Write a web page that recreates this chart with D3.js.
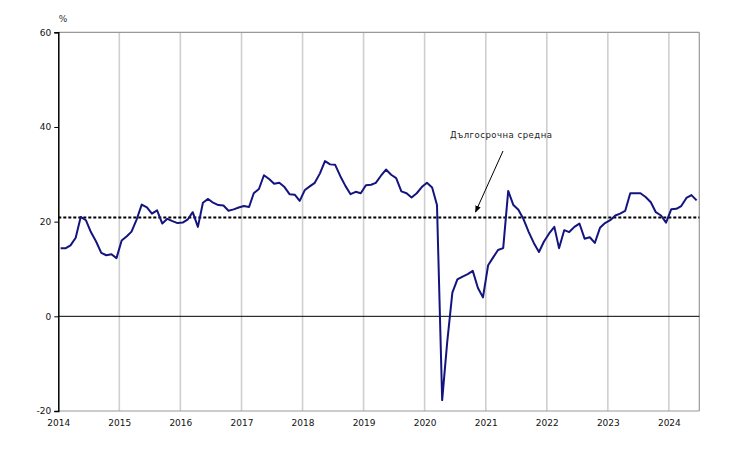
<!DOCTYPE html>
<html><head><meta charset="utf-8">
<script src="https://cdn.jsdelivr.net/npm/d3@7"></script>
<style>body{margin:0;background:#fff}svg{display:block}text{font-family:"DejaVu Sans",Verdana,sans-serif}</style>
</head><body><svg id="c" width="737" height="465"></svg>
<script>
const startMonth = "2014-01";
const values = [
 14.4,14.4,15.0,16.6,21.0,20.3,17.8,15.8,13.4,12.9,13.1,12.3,
 16.0,16.9,17.9,20.5,23.6,23.0,21.7,22.4,19.6,20.6,20.1,19.7,
 19.8,20.5,22.0,18.9,24.0,24.8,24.0,23.5,23.4,22.3,22.6,23.0,
 23.3,23.1,26.0,26.9,29.8,29.0,28.0,28.2,27.3,25.8,25.7,24.4,
 26.7,27.5,28.2,30.2,32.8,32.1,32.0,29.6,27.5,25.8,26.3,26.0,
 27.7,27.8,28.2,29.7,31.0,29.9,29.2,26.4,26.0,25.1,26.0,27.3,
 28.2,27.2,23.5,-17.7,-5.5,5.0,7.8,8.4,8.9,9.6,6.0,4.0,
 10.8,12.5,14.0,14.4,26.5,23.5,22.5,20.5,17.8,15.5,13.6,15.8,
 17.5,18.9,14.4,18.2,17.8,18.9,19.6,16.4,16.7,15.5,18.7,19.7,
 20.3,21.3,21.7,22.3,26.0,26.0,26.0,25.2,24.1,22.0,21.3,19.8,
 22.6,22.7,23.3,25.0,25.6,24.5
];
const longTermAverage = 20.9;
const yTicks = [-20, 0, 20, 40, 60];
const yearLabels = ["2014","2015","2016","2017","2018","2019","2020","2021","2022","2023","2024"];
const unitLabel = "%";
const annotation = "Дългосрочна средна";

(function(){
const svg = d3.select("#c");
const L = 58.3, R = 699.3, T = 32.3, B = 411;
const parse = d3.timeParse("%Y-%m-%d");
const x = d3.scaleTime().domain([parse("2014-01-01"), parse("2024-07-01")]).range([L, R]);
const y = d3.scaleLinear().domain([-20, 60]).range([B, T]);

const start = d3.timeParse("%Y-%m")(startMonth);
const data = values.map((v, i) => ({date: d3.timeDay.offset(d3.timeMonth.offset(start, i), 14), v}));

yearLabels.slice(1).forEach(yr => {
  const xx = x(parse(yr + "-01-01"));
  svg.append("line").attr("x1", xx).attr("x2", xx).attr("y1", T).attr("y2", B)
    .attr("stroke", "#cfcfcf").attr("stroke-width", 1.6);
});
svg.append("line").attr("x1", L).attr("x2", R).attr("y1", T).attr("y2", T).attr("stroke", "#999").attr("stroke-width", 1.2);
svg.append("line").attr("x1", R).attr("x2", R).attr("y1", T).attr("y2", B).attr("stroke", "#999").attr("stroke-width", 1.2);
svg.append("line").attr("x1", L).attr("x2", R).attr("y1", B).attr("y2", B).attr("stroke", "#999").attr("stroke-width", 1.2);

svg.append("line").attr("x1", L).attr("x2", R).attr("y1", y(0)).attr("y2", y(0)).attr("stroke", "#000").attr("stroke-width", 1);

const yAxis = d3.axisLeft(y).tickValues(yTicks).tickFormat(d => String(d)).tickSize(4).tickPadding(3);
const gy = svg.append("g").attr("transform", `translate(${L},0)`).call(yAxis);
gy.select(".domain").attr("stroke", "#000").attr("stroke-width", 1.5);
gy.selectAll(".tick line").attr("stroke", "#000");
gy.selectAll("text").attr("font-size", 9).attr("fill", "#111");

const xAxis = d3.axisBottom(x).tickValues(yearLabels.map(yr => parse(yr + "-01-01"))).tickFormat(d3.timeFormat("%Y")).tickSize(0).tickPadding(9);
const gx = svg.append("g").attr("transform", `translate(0,${B})`).call(xAxis);
gx.select(".domain").remove();
gx.selectAll("text").attr("font-size", 9).attr("fill", "#111");

svg.append("text").attr("x", L + 0.5).attr("y", 22).attr("font-size", 9).attr("fill", "#333").text(unitLabel);

svg.append("line").attr("x1", L).attr("x2", R).attr("y1", y(longTermAverage)).attr("y2", y(longTermAverage))
  .attr("stroke", "#000").attr("stroke-width", 2).attr("stroke-dasharray", "3,2");

svg.append("path").datum(data).attr("fill", "none").attr("stroke", "#14147e").attr("stroke-width", 2)
  .attr("stroke-linejoin", "round")
  .attr("d", d3.line().x(d => x(d.date)).y(d => y(d.v)));

svg.append("defs").append("marker").attr("id", "ah").attr("viewBox", "0 0 10 10").attr("refX", 9).attr("refY", 5)
  .attr("markerWidth", 7).attr("markerHeight", 7).attr("orient", "auto")
  .append("path").attr("d", "M0,1 L10,5 L0,9 z").attr("fill", "#000");
svg.append("line").attr("x1", 503).attr("y1", 151).attr("x2", 475.5).attr("y2", 212)
  .attr("stroke", "#000").attr("stroke-width", 1).attr("marker-end", "url(#ah)");
svg.append("text").attr("x", 450).attr("y", 138).attr("font-size", 8.5).attr("letter-spacing", 0.5).attr("fill", "#222").text(annotation);
})();
</script></body></html>
